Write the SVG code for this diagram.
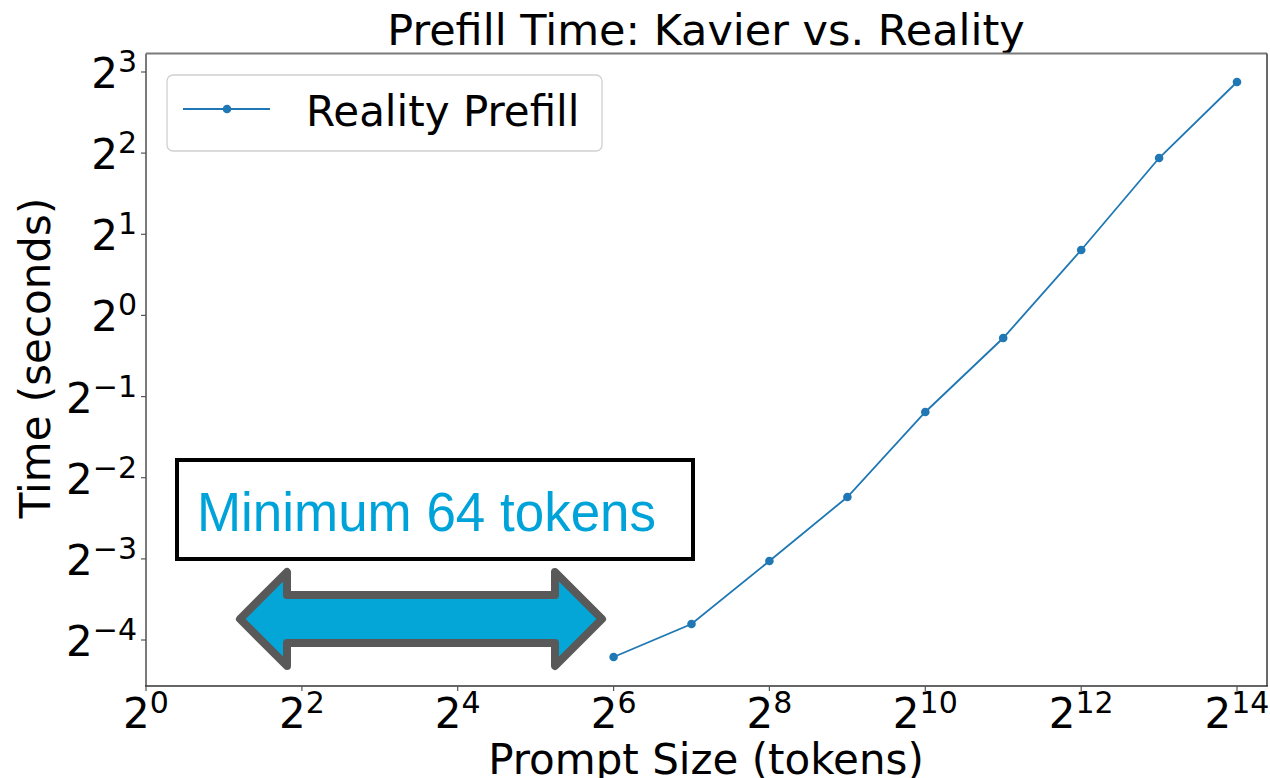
<svg xmlns="http://www.w3.org/2000/svg" width="1270" height="778" viewBox="0 0 1270 778">
<style>
.mpl{font-family:"DejaVu Sans",sans-serif;fill:#000}
.tick{font-family:"DejaVu Sans",sans-serif;font-size:42px;fill:#000}
.sup{font-size:30px}
.tk{stroke:#555;stroke-width:1.2}
.dl{fill:none;stroke:#1f77b4;stroke-width:1.8}
.mk{fill:#1f77b4}
</style>
<rect width="1270" height="778" fill="#fff"/>
<g id="title"><text class="mpl" x="706" y="45" font-size="43" text-anchor="middle">Prefill Time: Kavier vs. Reality</text></g>
<g id="axes">
<line x1="146" y1="53.5" x2="1267" y2="53.5" stroke="#7a7a7a" stroke-width="2"/>
<line x1="146" y1="53.5" x2="146" y2="686" stroke="#7a7a7a" stroke-width="2"/>
<line x1="1267" y1="53.5" x2="1267" y2="686" stroke="#444" stroke-width="1.6"/>
<line x1="145" y1="686" x2="1268" y2="686" stroke="#333" stroke-width="1.6"/>
<g id="yticks">
<line class="tk" x1="141" y1="72" x2="146" y2="72"/>
<line class="tk" x1="141" y1="153.1" x2="146" y2="153.1"/>
<line class="tk" x1="141" y1="234.3" x2="146" y2="234.3"/>
<line class="tk" x1="141" y1="315.4" x2="146" y2="315.4"/>
<line class="tk" x1="141" y1="396.6" x2="146" y2="396.6"/>
<line class="tk" x1="141" y1="477.7" x2="146" y2="477.7"/>
<line class="tk" x1="141" y1="558.9" x2="146" y2="558.9"/>
<line class="tk" x1="141" y1="640" x2="146" y2="640"/>
<text class="tick" x="137" y="88" text-anchor="end">2<tspan class="sup" dy="-16">3</tspan></text>
<text class="tick" x="137" y="169" text-anchor="end">2<tspan class="sup" dy="-16">2</tspan></text>
<text class="tick" x="137" y="250" text-anchor="end">2<tspan class="sup" dy="-16">1</tspan></text>
<text class="tick" x="137" y="331" text-anchor="end">2<tspan class="sup" dy="-16">0</tspan></text>
<text class="tick" x="137" y="413" text-anchor="end">2<tspan class="sup" dy="-16">−1</tspan></text>
<text class="tick" x="137" y="494" text-anchor="end">2<tspan class="sup" dy="-16">−2</tspan></text>
<text class="tick" x="137" y="575" text-anchor="end">2<tspan class="sup" dy="-16">−3</tspan></text>
<text class="tick" x="137" y="656" text-anchor="end">2<tspan class="sup" dy="-16">−4</tspan></text>
</g>
<g id="xticks">
<line class="tk" x1="146" y1="686" x2="146" y2="691"/>
<line class="tk" x1="301.9" y1="686" x2="301.9" y2="691"/>
<line class="tk" x1="457.7" y1="686" x2="457.7" y2="691"/>
<line class="tk" x1="613.6" y1="686" x2="613.6" y2="691"/>
<line class="tk" x1="769.4" y1="686" x2="769.4" y2="691"/>
<line class="tk" x1="925.3" y1="686" x2="925.3" y2="691"/>
<line class="tk" x1="1081.2" y1="686" x2="1081.2" y2="691"/>
<line class="tk" x1="1237" y1="686" x2="1237" y2="691"/>
<text class="tick" x="146" y="728" text-anchor="middle">2<tspan class="sup" dy="-15">0</tspan></text>
<text class="tick" x="301.9" y="728" text-anchor="middle">2<tspan class="sup" dy="-15">2</tspan></text>
<text class="tick" x="457.7" y="728" text-anchor="middle">2<tspan class="sup" dy="-15">4</tspan></text>
<text class="tick" x="613.6" y="728" text-anchor="middle">2<tspan class="sup" dy="-15">6</tspan></text>
<text class="tick" x="769.4" y="728" text-anchor="middle">2<tspan class="sup" dy="-15">8</tspan></text>
<text class="tick" x="925.3" y="728" text-anchor="middle">2<tspan class="sup" dy="-15">10</tspan></text>
<text class="tick" x="1081.2" y="728" text-anchor="middle">2<tspan class="sup" dy="-15">12</tspan></text>
<text class="tick" x="1237" y="728" text-anchor="middle">2<tspan class="sup" dy="-15">14</tspan></text>
</g>
<text class="mpl" x="706" y="774" font-size="42" text-anchor="middle">Prompt Size (tokens)</text>
<text class="mpl" font-size="42" text-anchor="middle" transform="translate(50,358) rotate(-90)">Time (seconds)</text>
</g>
<g id="series">
<polyline class="dl" points="613.6,657 691.5,624 769.4,561 847.4,497 925.3,412 1003.2,338 1081.2,250 1159.1,158 1237,82"/>
<circle class="mk" cx="613.6" cy="657" r="4.3"/>
<circle class="mk" cx="691.5" cy="624" r="4.3"/>
<circle class="mk" cx="769.4" cy="561" r="4.3"/>
<circle class="mk" cx="847.4" cy="497" r="4.3"/>
<circle class="mk" cx="925.3" cy="412" r="4.3"/>
<circle class="mk" cx="1003.2" cy="338" r="4.3"/>
<circle class="mk" cx="1081.2" cy="250" r="4.3"/>
<circle class="mk" cx="1159.1" cy="158" r="4.3"/>
<circle class="mk" cx="1237" cy="82" r="4.3"/>
</g>
<g id="legend">
<rect x="167" y="75" width="435" height="76" rx="6" ry="6" fill="#fff" fill-opacity="0.8" stroke="#d0d0d0" stroke-width="1.3"/>
<line class="dl" x1="183" y1="109" x2="270" y2="109"/>
<circle class="mk" cx="227" cy="109" r="4.3"/>
<text class="mpl" x="306" y="126" font-size="42">Reality Prefill</text>
</g>
<g id="note">
<rect x="177" y="460" width="516" height="99" fill="#fff" stroke="#000" stroke-width="4"/>
<text x="197" y="531" font-family="'Liberation Sans',Arial,sans-serif" font-size="56" fill="#00a3d9" textLength="459" lengthAdjust="spacingAndGlyphs">Minimum 64 tokens</text>
</g>
<g id="arrow">
<polygon points="240,619 287,572 287,595 555,595 555,572 602,619 555,666 555,643 287,643 287,666" fill="#03a6d6" stroke="#595959" stroke-width="8" stroke-linejoin="round"/>
</g>
</svg>
